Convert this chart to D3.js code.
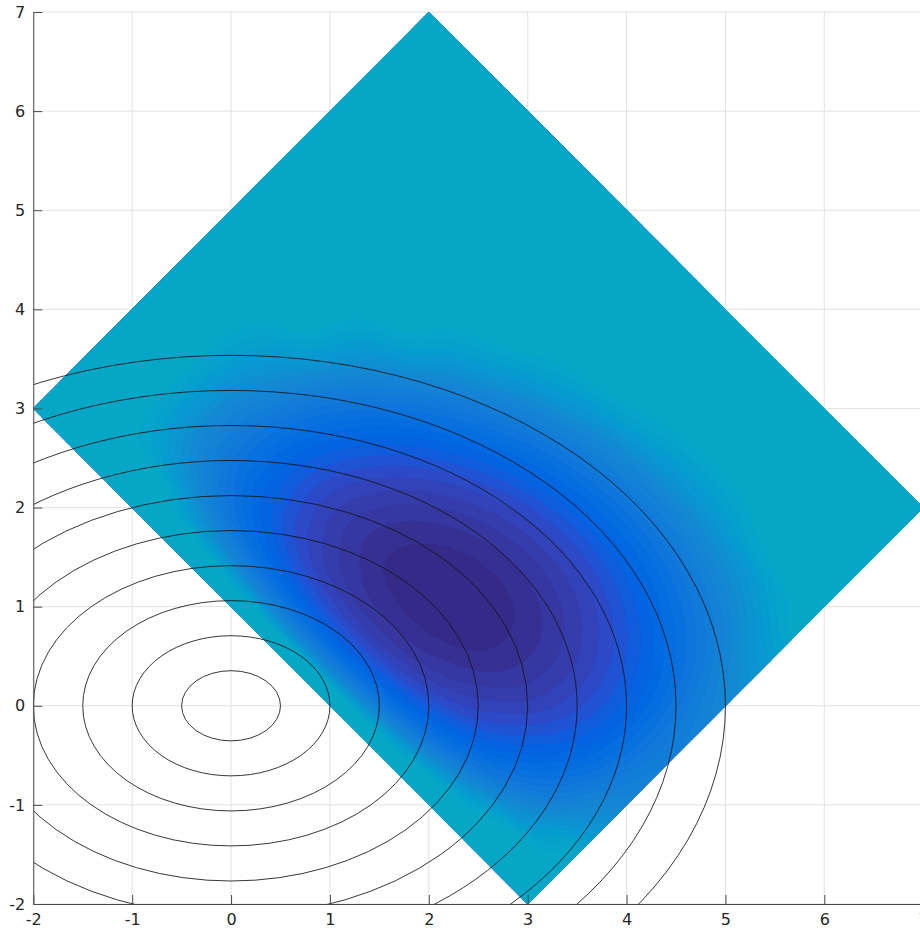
<!DOCTYPE html>
<html>
<head>
<meta charset="utf-8">
<script src="https://cdn.jsdelivr.net/npm/d3@7"></script>
<style>
  html, body { margin: 0; padding: 0; background: #ffffff; }
  svg { display: block; }
  .tick text { font-family: "DejaVu Sans", sans-serif; font-size: 16px; fill: #262626; }
</style>
</head>
<body>
<svg id="chart" width="920" height="930"></svg>
<script>
// Axis ticks
const xTicks = [-2, -1, 0, 1, 2, 3, 4, 5, 6, 7];
const yTicks = [-2, -1, 0, 1, 2, 3, 4, 5, 6, 7];

// Level curves x^2 + 2y^2 = r^2 : semi-axes along x and y
const ringRx = [0.5, 1.0, 1.5, 2.0, 2.5, 3.0, 3.5, 4.0, 4.5, 5.0];
const ringRy = [0.354, 0.707, 1.061, 1.414, 1.768, 2.121, 2.475, 2.828, 3.182, 3.536];

// Shaded surface sampled in the rotated frame u = x + y, v = x - y.
// Each entry is the colormap position (1 = darkest, 25 and above = flat cyan).
const nodeU = [1, 1.2, 1.3, 1.4, 1.5, 1.6, 1.8, 2, 2.25, 2.5, 3, 3.5, 4, 4.5, 5, 5.5, 6, 6.5, 7, 7.5, 8, 9];
const nodeV = [-5, -4, -3, -2, -1, 0, 1, 2, 3, 4, 5];
const nodeLevel = [
  [26, 26, 26,    26,    26,    26,    26,    26,    26,    26,    26],
  [26, 26, 26,    26,    26,    26,    26,    26,    26,    26,    26],
  [26, 26, 26,    26,    22.9,  21.0,  21.1,  23.3,  26,    26,    26],
  [26, 26, 26,    23.4,  19.3,  17.25, 17.3,  19.5,  23.7,  26,    26],
  [26, 26, 26,    20.7,  16.5,  14.5,  14.5,  16.5,  20.7,  26,    26],
  [26, 26, 25.0,  18.6,  14.4,  12.25, 12.2,  14.2,  18.3,  24.5,  26],
  [26, 26, 22.1,  15.6,  11.25, 8.96,  8.75,  10.6,  14.6,  20.6,  26],
  [26, 26, 20.2,  13.6,  9.08,  6.65,  6.31,  8.04,  11.86, 17.8,  25.75],
  [26, 26, 18.7,  11.95, 7.27,  4.66,  4.14,  5.70,  9.35,  15.08, 22.9],
  [26, 26, 17.95, 11.0,  6.14,  3.36,  2.67,  4.06,  7.53,  13.09, 20.7],
  [26, 26, 17.86, 10.57, 5.36,  2.23,  1.19,  2.23,  5.36,  10.57, 17.86],
  [26, 26, 19.2,  11.55, 5.99,  2.52,  1.13,  1.83,  4.60,  9.46,  16.41],
  [26, 26, 21.6,  13.6,  7.72,  3.89,  2.16,  2.51,  4.94,  9.45,  16.05],
  [26, 26, 24.9,  16.6,  10.35, 6.18,  4.10,  4.10,  6.18,  10.35, 16.6],
  [26, 26, 26,    20.4,  13.79, 9.27,  6.84,  6.50,  8.23,  12.05, 17.95],
  [26, 26, 26,    24.9,  17.97, 13.11, 10.33, 9.64,  11.02, 14.5,  20.05],
  [26, 26, 26,    26,    22.8,  17.63, 14.5,  13.47, 14.5,  17.63, 22.8],
  [26, 26, 26,    26,    26,    22.8,  19.35, 17.96, 18.65, 21.4,  26],
  [26, 26, 26,    26,    26,    26,    24.8,  23.1,  23.4,  25.9,  26],
  [26, 26, 26,    26,    26,    26,    26,    26,    26,    26,    26],
  [26, 26, 26,    26,    26,    26,    26,    26,    26,    26,    26],
  [26, 26, 26,    26,    26,    26,    26,    26,    26,    26,    26]
];

// First 25 entries of the parula colormap (64-step)
const palette = [
  "#352a87", "#363093", "#3637a0", "#353dad", "#3243ba", "#2c4ac7", "#2053d4", "#0f5cdd",
  "#0363e1", "#0268e1", "#046de0", "#0871de", "#0d75dc", "#1079da", "#127dd8", "#1481d6",
  "#1485d4", "#1389d3", "#108ed2", "#0c93d2", "#0998d1", "#079ccf", "#06a0cd", "#06a4ca",
  "#06a7c6"
];

const W = 920, H = 930;
const xs = d3.scaleLinear().domain([-2, 7]).range([33.3, 923.2]);
const ys = d3.scaleLinear().domain([-2, 7]).range([904, 12]);

const svg = d3.select("#chart");
const defs = svg.append("defs");

defs.append("clipPath").attr("id", "plotClip")
  .append("rect")
  .attr("x", xs(-2)).attr("y", ys(7))
  .attr("width", xs(7) - xs(-2)).attr("height", ys(-2) - ys(7));

const toXY = (u, v) => [(u + v) / 2, (u - v) / 2];
const uMin = nodeU[0], uMax = nodeU[nodeU.length - 1];
const vMin = nodeV[0], vMax = nodeV[nodeV.length - 1];
const frameCorners = [[uMin, vMin], [uMax, vMin], [uMax, vMax], [uMin, vMax]].map(([u, v]) => toXY(u, v));

defs.append("clipPath").attr("id", "frameClip")
  .append("path")
  .attr("d", "M" + frameCorners.map(([x, y]) => xs(x) + "," + ys(y)).join("L") + "Z");

// Grid
const grid = svg.append("g").attr("stroke", "#e2e2e2").attr("stroke-width", 1).attr("fill", "none");
grid.selectAll("line.gx").data(xTicks).join("line").attr("class", "gx")
  .attr("x1", d => xs(d)).attr("x2", d => xs(d)).attr("y1", ys(-2)).attr("y2", ys(7));
grid.selectAll("line.gy").data(yTicks).join("line").attr("class", "gy")
  .attr("x1", xs(-2)).attr("x2", xs(7)).attr("y1", d => ys(d)).attr("y2", d => ys(d));

// Smooth resampling of the node table (Catmull-Rom in index space)
function cr(p0, p1, p2, p3, t) {
  const t2 = t * t, t3 = t2 * t;
  return 0.5 * (2 * p1 + (-p0 + p2) * t + (2 * p0 - 5 * p1 + 4 * p2 - p3) * t2 + (-p0 + 3 * p1 - 3 * p2 + p3) * t3);
}
function fracIndex(arr, val) {
  let i = 0;
  while (i < arr.length - 2 && val > arr[i + 1]) i++;
  return i + (val - arr[i]) / (arr[i + 1] - arr[i]);
}
function levelAt(u, v) {
  const su = fracIndex(nodeU, u), sv = fracIndex(nodeV, v);
  const iu = Math.min(Math.floor(su), nodeU.length - 2);
  const iv = Math.min(Math.floor(sv), nodeV.length - 2);
  const tu = su - iu, tv = sv - iv;
  const at = (i, j) => nodeLevel[Math.max(0, Math.min(nodeU.length - 1, i))][Math.max(0, Math.min(nodeV.length - 1, j))];
  const cols = [-1, 0, 1, 2].map(di => cr(at(iu + di, iv - 1), at(iu + di, iv), at(iu + di, iv + 1), at(iu + di, iv + 2), tv));
  return cr(cols[0], cols[1], cols[2], cols[3], tu);
}

const du = 0.025, dv = 0.025;
const nu = Math.round((uMax - uMin) / du) + 1;
const nv = Math.round((vMax - vMin) / dv) + 1;
const values = new Float64Array(nu * nv);
for (let j = 0; j < nv; j++) {
  const v = vMin + j * dv;
  for (let i = 0; i < nu; i++) {
    values[j * nu + i] = levelAt(uMin + i * du, v);
  }
}

const gridToPixel = d3.geoTransform({
  point(gx, gy) {
    const u = uMin + (gx - 0.5) * du;
    const v = vMin + (gy - 0.5) * dv;
    const [x, y] = toXY(u, v);
    this.stream.point(xs(x), ys(y));
  }
});
const bandPath = d3.geoPath(gridToPixel);
const contourGen = d3.contours().size([nu, nv]).smooth(true);

const surfOuter = svg.append("g").attr("clip-path", "url(#plotClip)");
const surf = surfOuter.append("g").attr("clip-path", "url(#frameClip)");

surf.append("path")
  .attr("d", "M" + frameCorners.map(([x, y]) => xs(x) + "," + ys(y)).join("L") + "Z")
  .attr("fill", palette[0]);

for (let k = 2; k <= palette.length; k++) {
  const geom = contourGen.contour(values, k);
  surf.append("path")
    .attr("d", bandPath(geom))
    .attr("fill", palette[k - 1])
    .attr("stroke", palette[k - 1])
    .attr("stroke-width", 0.4);
}

// Level curves
svg.append("g").attr("clip-path", "url(#plotClip)")
  .selectAll("ellipse").data(ringRx.map((rx, i) => ({ rx, ry: ringRy[i] })))
  .join("ellipse")
  .attr("cx", xs(0)).attr("cy", ys(0))
  .attr("rx", d => xs(d.rx) - xs(0))
  .attr("ry", d => ys(0) - ys(d.ry))
  .attr("fill", "none")
  .attr("stroke", "#141414")
  .attr("stroke-width", 0.85);

// Axes
const fmt = d => String(d);
const xAxis = svg.append("g").attr("transform", `translate(0,${ys(-2)})`)
  .call(d3.axisBottom(xs).tickValues(xTicks).tickFormat(fmt).tickSizeInner(-9).tickSizeOuter(0).tickPadding(10));
const yAxis = svg.append("g").attr("transform", `translate(${xs(-2)},0)`)
  .call(d3.axisLeft(ys).tickValues(yTicks).tickFormat(fmt).tickSizeInner(-9).tickSizeOuter(0).tickPadding(8));
[xAxis, yAxis].forEach(a => {
  a.select(".domain").attr("stroke", "#4a4a4a").attr("stroke-width", 1);
  a.selectAll(".tick line").attr("stroke", "#4a4a4a").attr("stroke-width", 1);
});
</script>
</body>
</html>
